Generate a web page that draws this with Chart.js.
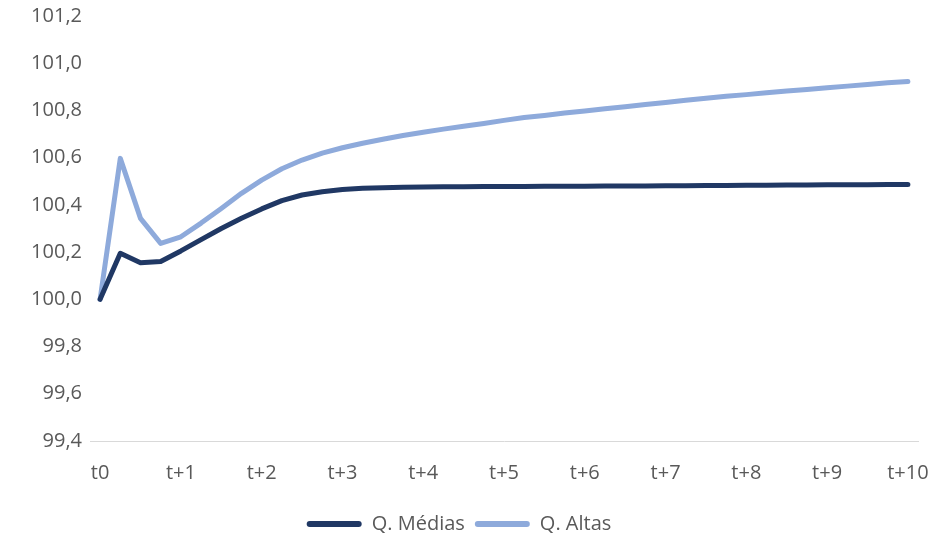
<!DOCTYPE html>
<html lang="pt">
<head>
<meta charset="utf-8">
<title>Q. Médias vs Q. Altas</title>
<script src="https://cdn.jsdelivr.net/npm/chart.js@4/dist/chart.umd.min.js"></script>
<style>
  html, body { margin: 0; padding: 0; background: #ffffff; }
  #wrap { width: 932px; height: 538px; }
</style>
</head>
<body>
<div id="wrap"><canvas id="chart" width="932" height="538"></canvas></div>
<script>
// Horizon labels (one per period) and number of quarterly steps per period
const periodLabels = ['t0', 't+1', 't+2', 't+3', 't+4', 't+5', 't+6', 't+7', 't+8', 't+9', 't+10'];
const stepsPerPeriod = 4;

// Index paths, quarterly from t0 to t+10 (41 observations each)
const mediasValues = [
  100.000, 100.195, 100.155, 100.160, 100.205, 100.253, 100.300, 100.343, 100.383, 100.418,
  100.442, 100.456, 100.465, 100.470, 100.473, 100.475, 100.476, 100.477, 100.477, 100.478,
  100.478, 100.478, 100.479, 100.479, 100.479, 100.480, 100.480, 100.480, 100.481, 100.481,
  100.482, 100.482, 100.483, 100.483, 100.484, 100.484, 100.485, 100.485, 100.485, 100.486,
  100.486
];
const altasValues = [
  100.000, 100.597, 100.343, 100.237, 100.265, 100.323, 100.385, 100.449, 100.505, 100.553,
  100.590, 100.619, 100.642, 100.661, 100.678, 100.694, 100.708, 100.721, 100.733, 100.745,
  100.758, 100.770, 100.779, 100.789, 100.798, 100.807, 100.816, 100.825, 100.834, 100.843,
  100.852, 100.860, 100.867, 100.875, 100.882, 100.889, 100.896, 100.903, 100.910, 100.917,
  100.923
];

// Y axis range
const yMin = 99.4;
const yMax = 101.2;
const yStep = 0.2;

// One category per quarter; only period starts carry a visible label
const categories = mediasValues.map((_, i) =>
  i % stepsPerPeriod === 0 ? periodLabels[i / stepsPerPeriod] : ''
);

const textColor = '#595959';
const baseFont = { family: '"Open Sans", "Liberation Sans", sans-serif', size: 20 };

new Chart(document.getElementById('chart'), {
  type: 'line',
  data: {
    labels: categories,
    datasets: [
      {
        label: 'Q. Médias',
        data: mediasValues,
        borderColor: '#203864',
        backgroundColor: '#203864',
        borderWidth: 5,
        pointRadius: 0,
        tension: 0,
        borderCapStyle: 'round',
        borderJoinStyle: 'round'
      },
      {
        label: 'Q. Altas',
        data: altasValues,
        borderColor: '#8eaadb',
        backgroundColor: '#8eaadb',
        borderWidth: 5,
        pointRadius: 0,
        tension: 0,
        borderCapStyle: 'round',
        borderJoinStyle: 'round'
      }
    ]
  },
  options: {
    responsive: false,
    animation: false,
    layout: { padding: { top: 16, right: 14, left: 0, bottom: -6 } },
    plugins: {
      tooltip: { enabled: false },
      legend: {
        position: 'bottom',
        labels: {
          color: textColor,
          font: baseFont,
          boxWidth: 55,
          boxHeight: 6,
          useBorderRadius: true,
          borderRadius: 3,
          padding: 10,
          generateLabels(chart) {
            return chart.data.datasets.map((ds, i) => ({
              text: ds.label,
              fillStyle: ds.borderColor,
              strokeStyle: ds.borderColor,
              lineWidth: 0,
              borderRadius: 3,
              fontColor: textColor,
              datasetIndex: i,
              hidden: false
            }));
          }
        }
      }
    },
    scales: {
      x: {
        offset: true,
        grid: { display: false, drawTicks: false },
        border: { display: true, color: '#d9d9d9', width: 1 },
        ticks: {
          color: textColor,
          font: baseFont,
          autoSkip: false,
          maxRotation: 0,
          padding: 20
        },
        afterFit(scale) {
          scale.height = 63;
          scale.paddingLeft = 0;
          scale.paddingRight = 0;
        }
      },
      y: {
        min: yMin,
        max: yMax,
        grid: { display: false, drawTicks: false },
        border: { display: false },
        afterFit(scale) {
          scale.width = 90;
          scale.paddingTop = 0;
          scale.paddingBottom = 0;
        },
        ticks: {
          stepSize: yStep,
          color: textColor,
          font: baseFont,
          padding: 8,
          callback: (v) => Number(v).toFixed(1).replace('.', ',')
        }
      }
    }
  }
});
</script>
</body>
</html>
